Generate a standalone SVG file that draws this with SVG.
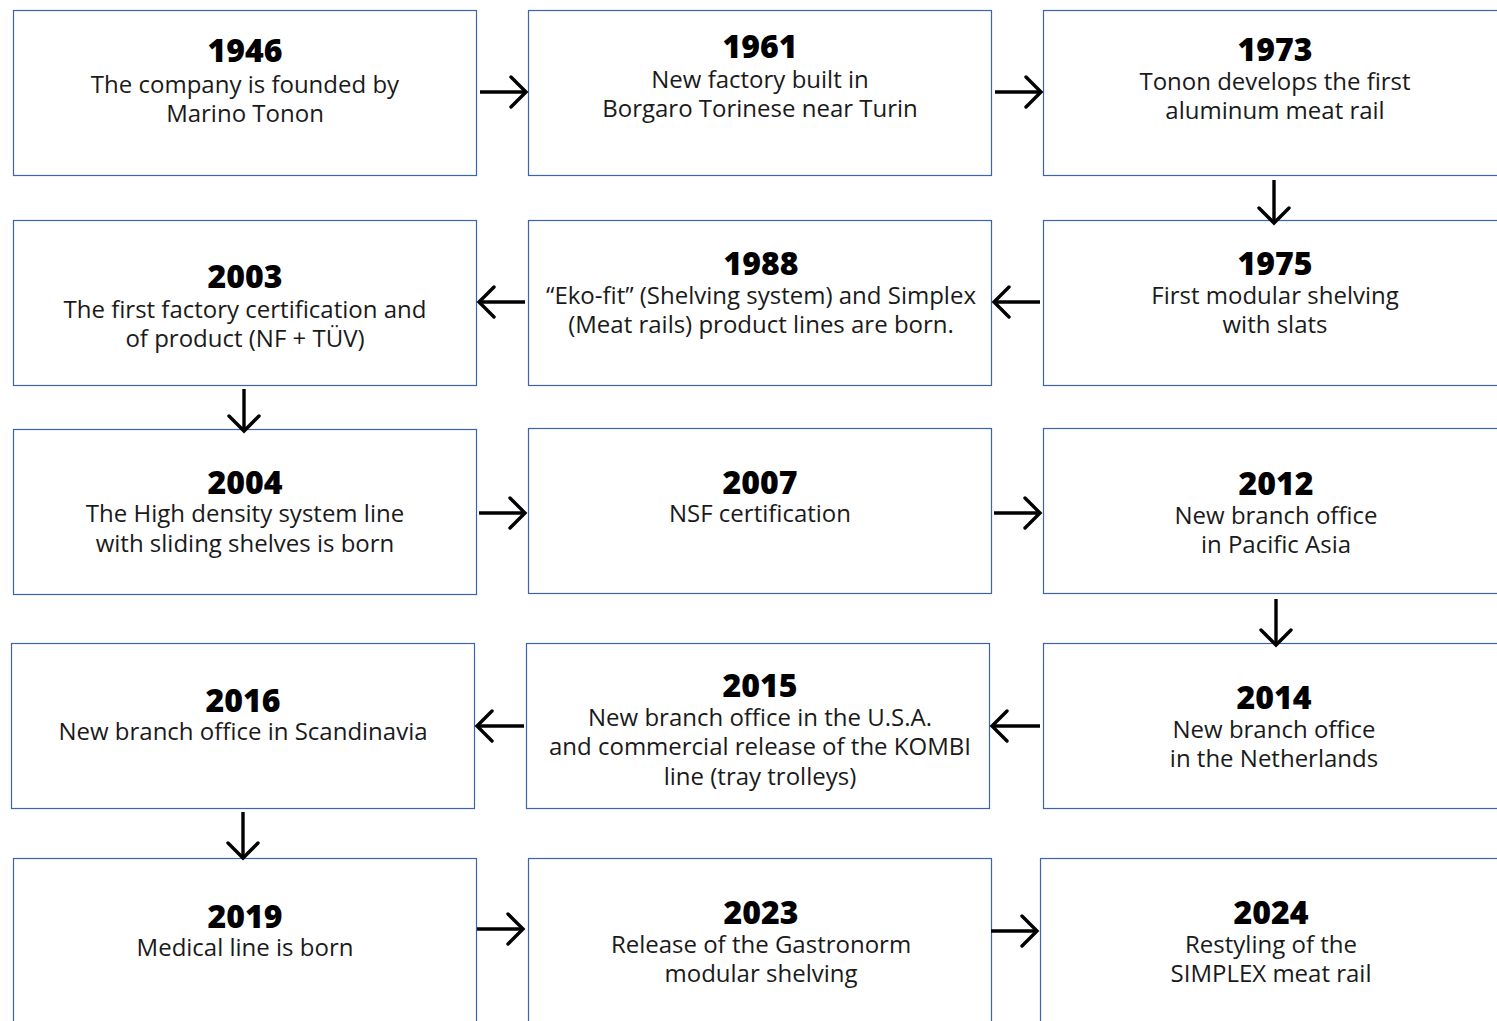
<svg xmlns="http://www.w3.org/2000/svg" width="1497" height="1021" viewBox="0 0 1497 1021">
<defs>
<marker id="ah" viewBox="0 0 22 34" refX="19" refY="17" markerWidth="22" markerHeight="34" markerUnits="userSpaceOnUse" orient="auto">
<polyline points="4,2 19,17 4,32" fill="none" stroke="#000" stroke-width="3.4" stroke-linecap="round" stroke-linejoin="miter"/>
</marker>
</defs>
<style>
.box{fill:#fff;stroke:#3A64B0;stroke-width:1.2}
.yr{font-family:"Open Sans","DejaVu Sans",sans-serif;font-weight:800;font-size:32px;fill:#000;text-anchor:middle}
.tx{font-family:"Open Sans","DejaVu Sans",sans-serif;font-size:24px;fill:#1a1a1a;text-anchor:middle}
.ar{fill:none;stroke:#000;stroke-width:3.4;marker-end:url(#ah)}
</style>
<rect width="1497" height="1021" fill="#fff"/>
<g id="n1946"><rect class="box" x="13.5" y="10.5" width="463" height="165"/><text class="yr" x="245" y="62">1946</text><text class="tx" x="245" y="93">The company is founded by</text><text class="tx" x="245" y="122">Marino Tonon</text></g>
<g id="n1961"><rect class="box" x="528.5" y="10.5" width="463" height="165"/><text class="yr" x="760" y="58">1961</text><text class="tx" x="760" y="88">New factory built in</text><text class="tx" x="760" y="117">Borgaro Torinese near Turin</text></g>
<g id="n1973"><rect class="box" x="1043.5" y="10.5" width="463" height="165"/><text class="yr" x="1275" y="61">1973</text><text class="tx" x="1275" y="90">Tonon develops the first</text><text class="tx" x="1275" y="119">aluminum meat rail</text></g>
<g id="n2003"><rect class="box" x="13.5" y="220.5" width="463" height="165"/><text class="yr" x="245" y="288">2003</text><text class="tx" x="245" y="318">The first factory certification and</text><text class="tx" x="245" y="347">of product (NF + TÜV)</text></g>
<g id="n1988"><rect class="box" x="528.5" y="220.5" width="463" height="165"/><text class="yr" x="761" y="275">1988</text><text class="tx" x="761" y="304">“Eko-fit” (Shelving system) and Simplex</text><text class="tx" x="761" y="333">(Meat rails) product lines are born.</text></g>
<g id="n1975"><rect class="box" x="1043.5" y="220.5" width="463" height="165"/><text class="yr" x="1275" y="275">1975</text><text class="tx" x="1275" y="304">First modular shelving</text><text class="tx" x="1275" y="333">with slats</text></g>
<g id="n2004"><rect class="box" x="13.5" y="429.5" width="463" height="165"/><text class="yr" x="245" y="494">2004</text><text class="tx" x="245" y="522">The High density system line</text><text class="tx" x="245" y="552">with sliding shelves is born</text></g>
<g id="n2007"><rect class="box" x="528.5" y="428.5" width="463" height="165"/><text class="yr" x="760" y="494">2007</text><text class="tx" x="760" y="522">NSF certification</text></g>
<g id="n2012"><rect class="box" x="1043.5" y="428.5" width="463" height="165"/><text class="yr" x="1276" y="495">2012</text><text class="tx" x="1276" y="524">New branch office</text><text class="tx" x="1276" y="553">in Pacific Asia</text></g>
<g id="n2016"><rect class="box" x="11.5" y="643.5" width="463" height="165"/><text class="yr" x="243" y="712">2016</text><text class="tx" x="243" y="740">New branch office in Scandinavia</text></g>
<g id="n2015"><rect class="box" x="526.5" y="643.5" width="463" height="165"/><text class="yr" x="760" y="697">2015</text><text class="tx" x="760" y="726">New branch office in the U.S.A.</text><text class="tx" x="760" y="755">and commercial release of the KOMBI</text><text class="tx" x="760" y="785">line (tray trolleys)</text></g>
<g id="n2014"><rect class="box" x="1043.5" y="643.5" width="463" height="165"/><text class="yr" x="1274" y="709">2014</text><text class="tx" x="1274" y="738">New branch office</text><text class="tx" x="1274" y="767">in the Netherlands</text></g>
<g id="n2019"><rect class="box" x="13.5" y="858.5" width="463" height="180"/><text class="yr" x="245" y="928">2019</text><text class="tx" x="245" y="956">Medical line is born</text></g>
<g id="n2023"><rect class="box" x="528.5" y="858.5" width="463" height="180"/><text class="yr" x="761" y="924">2023</text><text class="tx" x="761" y="953">Release of the Gastronorm</text><text class="tx" x="761" y="982">modular shelving</text></g>
<g id="n2024"><rect class="box" x="1040.5" y="858.5" width="463" height="180"/><text class="yr" x="1271" y="924">2024</text><text class="tx" x="1271" y="953">Restyling of the</text><text class="tx" x="1271" y="982">SIMPLEX meat rail</text></g>
<g id="connectors">
<path class="ar" d="M480 92H526"/>
<path class="ar" d="M995 92H1041"/>
<path class="ar" d="M1274 180V223"/>
<path class="ar" d="M1040 302H994"/>
<path class="ar" d="M525 302H479"/>
<path class="ar" d="M244 389V431"/>
<path class="ar" d="M479 513H525"/>
<path class="ar" d="M994 513H1040"/>
<path class="ar" d="M1276 599V645"/>
<path class="ar" d="M1040 726H992"/>
<path class="ar" d="M524 726H477"/>
<path class="ar" d="M243 812V858"/>
<path class="ar" d="M477 929H523"/>
<path class="ar" d="M991 931H1037"/>
</g>
</svg>
